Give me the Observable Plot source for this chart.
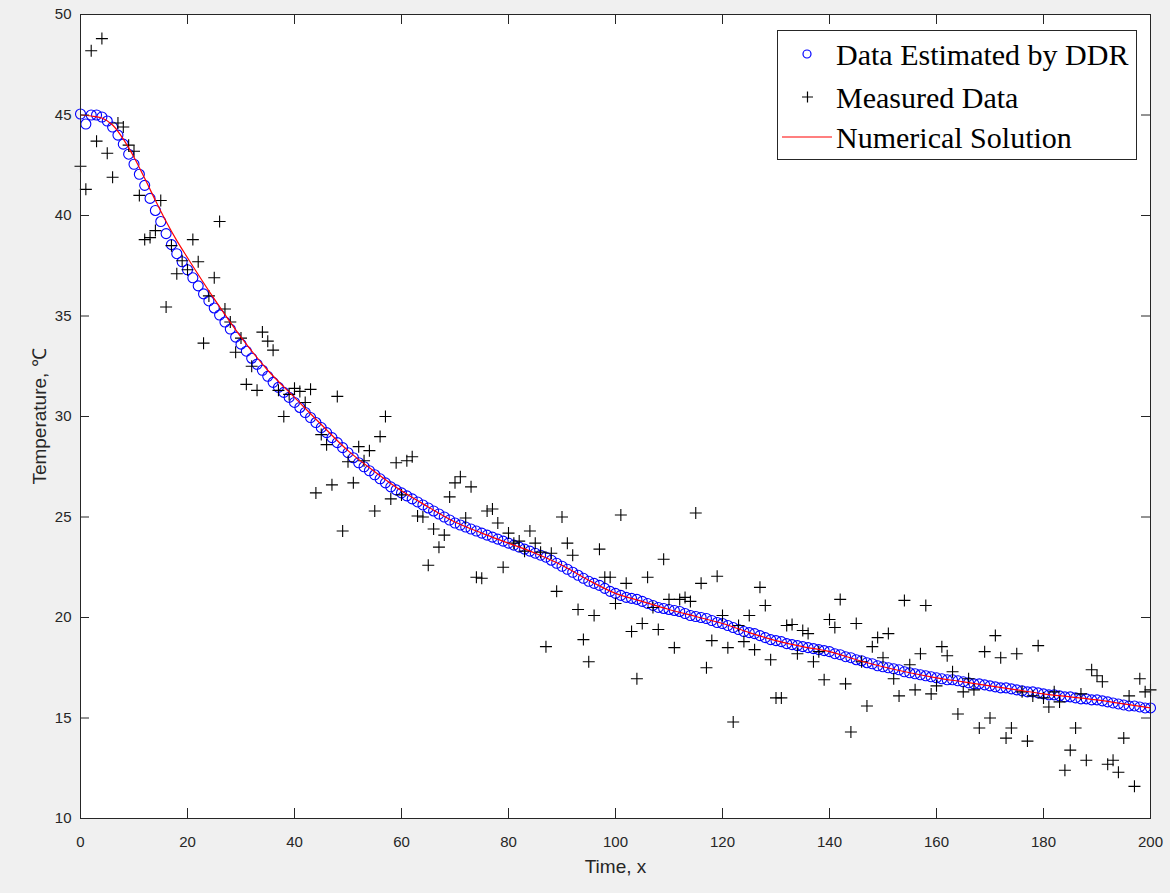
<!DOCTYPE html>
<html><head><meta charset="utf-8">
<script src="https://cdn.jsdelivr.net/npm/d3@7"></script>
<script src="https://cdn.jsdelivr.net/npm/@observablehq/plot@0.6"></script>
<style>
html,body{margin:0;padding:0;background:#f0f0f0;}
#chart{width:1170px;height:893px;}
</style>
</head><body><div id="chart"></div>
<script>
// time steps (x) 0..200
const timeSteps = d3.range(0, 201);
// measured temperatures (black +)
const measured = [
42.45,41.3,48.2,43.7,48.8,43.1,41.9,44.6,44.4,43.5,
43.2,41.0,38.8,38.9,39.25,40.75,35.45,38.5,37.1,37.75,
37.3,38.8,37.7,33.65,36.0,36.9,39.7,35.35,34.7,33.2,
33.9,31.6,32.5,31.3,34.2,33.75,33.3,31.3,30.0,31.1,
31.4,31.25,30.7,31.35,26.2,29.1,28.6,26.6,31.0,24.3,
27.75,26.7,28.5,27.8,28.3,25.3,29.0,30.0,25.9,27.7,
26.1,27.8,28.0,25.05,25.0,22.6,24.4,23.5,24.1,26.0,
26.7,27.0,24.95,26.5,22.0,21.95,25.3,25.4,24.7,22.5,
24.2,23.7,23.8,23.3,24.3,23.7,23.25,18.55,23.2,21.3,
25.0,23.7,23.1,20.4,18.9,17.8,20.1,23.4,22.0,22.0,
20.7,25.1,21.7,19.3,16.95,19.7,22.0,20.5,19.4,22.9,
20.9,18.5,20.9,21.0,20.8,25.2,21.7,17.5,18.85,22.05,
20.1,18.5,14.8,19.6,18.8,20.1,18.4,21.5,20.6,17.9,
16.0,16.0,19.6,19.65,18.2,19.35,19.2,17.8,18.3,16.9,
19.9,19.5,20.9,16.7,14.3,19.7,17.8,15.6,18.55,19.0,
18.0,19.2,16.95,16.1,20.85,17.65,16.4,18.2,20.6,16.2,
16.6,18.55,18.1,17.3,15.2,16.3,16.95,16.4,14.5,18.3,
15.0,19.1,18.0,14.0,14.5,18.2,16.3,13.85,16.1,18.6,
16.0,15.55,16.3,15.8,12.4,13.4,14.5,16.2,12.9,17.4,
17.1,16.8,12.7,12.9,12.3,14.0,16.1,11.6,16.95,16.3,
16.4];
// DDR estimated temperatures (blue o)
const estimated = [
45.05,44.55,45.0,45.0,44.9,44.7,44.4,44.0,43.55,43.05,
42.55,42.05,41.5,40.85,40.25,39.7,39.1,38.55,38.1,37.7,
37.3,36.9,36.5,36.1,35.75,35.4,35.05,34.7,34.35,33.95,
33.6,33.25,32.9,32.6,32.3,32.0,31.7,31.45,31.2,30.95,
30.7,30.45,30.2,29.95,29.7,29.45,29.2,28.95,28.7,28.45,
28.2,27.95,27.7,27.5,27.3,27.1,26.9,26.7,26.5,26.35,
26.2,26.05,25.9,25.75,25.6,25.45,25.3,25.15,25.0,24.85,
24.7,24.6,24.5,24.4,24.3,24.2,24.1,24.0,23.9,23.8,
23.7,23.6,23.5,23.4,23.3,23.2,23.1,23.0,22.85,22.7,
22.55,22.4,22.25,22.1,21.95,21.8,21.7,21.6,21.45,21.3,
21.2,21.1,21.0,20.95,20.9,20.8,20.7,20.6,20.5,20.45,
20.4,20.35,20.3,20.2,20.1,20.05,20.0,19.95,19.85,19.75,
19.7,19.6,19.5,19.4,19.3,19.25,19.2,19.1,19.0,18.9,
18.85,18.8,18.7,18.65,18.6,18.55,18.5,18.45,18.4,18.35,
18.3,18.2,18.15,18.05,18.0,17.9,17.85,17.75,17.7,17.6,
17.55,17.5,17.45,17.4,17.3,17.25,17.2,17.15,17.1,17.05,
17.0,16.95,16.9,16.9,16.85,16.8,16.75,16.7,16.7,16.65,
16.6,16.55,16.5,16.5,16.45,16.4,16.35,16.3,16.3,16.25,
16.2,16.15,16.15,16.1,16.05,16.05,16.0,15.95,15.95,15.9,
15.9,15.85,15.8,15.75,15.7,15.65,15.6,15.6,15.55,15.5,
15.5];
// numerical solution (red line)
const numTime = [0,2,4,6,8,10,12,14,16,18,20,25,30,35,40,45,50,55,60,65,70,75,80,85,90,95,100,105,110,115,120,125,130,135,140,145,150,155,160,165,170,175,180,185,190,195,200];
const numTemp = [45.0,44.95,44.85,44.5,43.8,42.9,41.85,40.75,39.7,38.75,37.9,35.85,33.95,32.3,30.95,29.6,28.3,27.25,26.3,25.5,24.75,24.2,23.7,23.2,22.6,21.85,21.2,20.8,20.4,20.05,19.7,19.25,18.85,18.55,18.3,17.9,17.55,17.25,17.0,16.8,16.6,16.4,16.2,16.05,15.9,15.7,15.5];
// ticks
const xTicks = [0,20,40,60,80,100,120,140,160,180,200];
const yTicks = [10,15,20,25,30,35,40,45,50];
// legend labels
const legendLabels = ["Data Estimated by DDR","Measured Data","Numerical Solution"];

const measData = timeSteps.map((t,i)=>({t, v: measured[i]}));
const estData = timeSteps.map((t,i)=>({t, v: estimated[i]}));
const numData = numTime.map((t,i)=>({t, v: numTemp[i]}));

const W = 1170, H = 893, mL = 80, mR = 20, mT = 14, mB = 75;
const fW = W - mL - mR, fH = H - mT - mB;
const axisColor = "#262626";

const plusSymbol = {
  draw(context, size) {
    const r = Math.sqrt(size / Math.PI);
    context.moveTo(-r, 0); context.lineTo(r, 0);
    context.moveTo(0, -r); context.lineTo(0, r);
  }
};

function legendMark() {
  return (index, scales, values, dims) => {
    const g = d3.create("svg:g");
    const x0 = dims.width - dims.marginRight - 14 - 359;
    const y0 = dims.marginTop + 16;
    g.append("rect").attr("x", x0 + 0.5).attr("y", y0 + 0.5).attr("width", 359).attr("height", 129)
      .attr("fill", "white").attr("stroke", axisColor).attr("stroke-width", 1);
    const rows = [y0 + 24, y0 + 67, y0 + 107];
    g.append("circle").attr("cx", x0 + 30).attr("cy", rows[0]).attr("r", 4)
      .attr("fill", "none").attr("stroke", "#0000ff").attr("stroke-width", 1.2);
    g.append("path").attr("d", `M${x0+25},${rows[1]}h11M${x0+30.5},${rows[1]-5.5}v11`)
      .attr("stroke", "black").attr("stroke-width", 1.2);
    g.append("line").attr("x1", x0 + 5).attr("x2", x0 + 55).attr("y1", rows[2]).attr("y2", rows[2])
      .attr("stroke", "#ff0000").attr("stroke-width", 1.2);
    legendLabels.forEach((s, i) => {
      g.append("text").attr("x", x0 + 59).attr("y", rows[i]).attr("dy", "0.36em")
        .attr("text-anchor", "start")
        .attr("font-family", "'Liberation Serif', 'Times New Roman', serif")
        .attr("font-size", 30).attr("fill", "black").text(s);
    });
    return g.node();
  };
}

const chart = Plot.plot({
  width: W, height: H,
  marginLeft: mL, marginRight: mR, marginTop: mT, marginBottom: mB,
  style: {background: "#f0f0f0", fontFamily: "'Liberation Sans', Arial, sans-serif", fontSize: "15px", color: axisColor},
  x: {domain: [0, 200]},
  y: {domain: [10, 50]},
  marks: [
    Plot.frame({fill: "white"}),
    Plot.dot(estData, {x: "t", y: "v", r: 5, stroke: "#0000ff", strokeWidth: 1.1, fill: "none"}),
    Plot.dot(measData, {x: "t", y: "v", r: 6, symbol: plusSymbol, stroke: "black", strokeWidth: 1.1, fill: "none"}),
    Plot.line(numData, {x: "t", y: "v", stroke: "#ff0000", strokeWidth: 1.2, curve: "monotone-x"}),
    Plot.tickX(xTicks, {x: d => d, insetTop: fH - 10, stroke: axisColor}),
    Plot.tickX(xTicks, {x: d => d, insetBottom: fH - 10, stroke: axisColor}),
    Plot.tickY(yTicks, {y: d => d, insetRight: fW - 9, stroke: axisColor}),
    Plot.tickY(yTicks, {y: d => d, insetLeft: fW - 9, stroke: axisColor}),
    Plot.axisX({ticks: xTicks, tickSize: 0, tickPadding: 18, label: null, fill: axisColor}),
    Plot.axisY({ticks: yTicks, tickSize: 0, tickPadding: 9, label: null, fill: axisColor}),
    Plot.text(["Time, x"], {frameAnchor: "bottom", dy: 54, fontSize: 19, fill: axisColor}),
    Plot.text(["Temperature, ℃"], {frameAnchor: "left", textAnchor: "middle", rotate: -90, dx: -41, fontSize: 19, fill: axisColor}),
    Plot.frame({stroke: axisColor, strokeWidth: 1}),
    legendMark()
  ]
});
document.getElementById("chart").appendChild(chart);
</script>
</body></html>
